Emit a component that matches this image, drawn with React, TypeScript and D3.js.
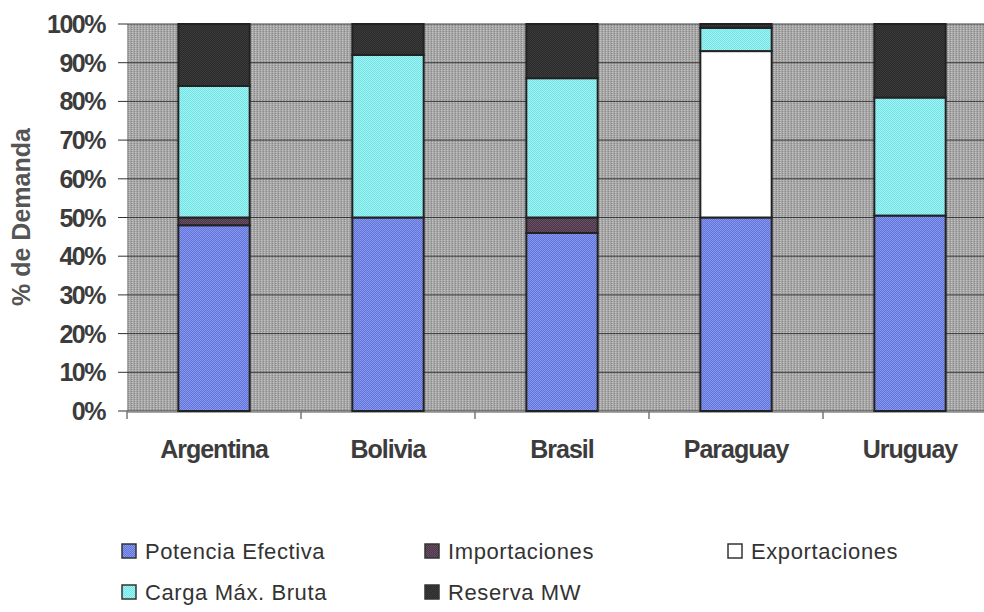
import React from "react";
import * as d3 from "d3";

const categories = ["Argentina", "Bolivia", "Brasil", "Paraguay", "Uruguay"];
const potencia = [48, 50, 46, 50, 50.5];
const importaciones = [2, 0, 4, 0, 0];
const exportaciones = [0, 0, 0, 43, 0];
const carga = [34, 42, 36, 6, 30.5];
const reserva = [16, 8, 14, 1, 19];
const yTicks = [0, 10, 20, 30, 40, 50, 60, 70, 80, 90, 100];

const seriesKeys = ["potencia", "importaciones", "exportaciones", "carga", "reserva"];
const seriesNames: Record<string, string> = {
  potencia: "Potencia Efectiva",
  importaciones: "Importaciones",
  exportaciones: "Exportaciones",
  carga: "Carga Máx. Bruta",
  reserva: "Reserva MW",
};
const seriesColors: Record<string, [string, string]> = {
  potencia: ["#6074da", "#8898ee"],
  importaciones: ["#4a3646", "#6a5066"],
  exportaciones: ["#ffffff", "#ffffff"],
  carga: ["#a2f4f4", "#72e2e2"],
  reserva: ["#2a2a2a", "#3c3c3c"],
};

const W = 984;
const H = 612;
const plotLeft = 127;
const plotTop = 24;
const plotBottom = 411;
const bandW = 174;

export default function App() {
  const rows = categories.map((c, i) => ({
    cat: c,
    potencia: potencia[i],
    importaciones: importaciones[i],
    exportaciones: exportaciones[i],
    carga: carga[i],
    reserva: reserva[i],
  }));
  const stack = d3.stack<any>().keys(seriesKeys);
  const stacked = stack(rows);

  const x = d3
    .scaleBand<string>()
    .domain(categories)
    .range([plotLeft, plotLeft + bandW * categories.length])
    .paddingInner(0)
    .paddingOuter(0);
  const y = d3.scaleLinear().domain([0, 100]).range([plotBottom, plotTop]);
  const barW = x.bandwidth() * 0.41;

  const legendItems = [
    { key: "potencia", x: 122, y: 551 },
    { key: "importaciones", x: 425, y: 551 },
    { key: "exportaciones", x: 728, y: 551 },
    { key: "carga", x: 122, y: 592 },
    { key: "reserva", x: 425, y: 592 },
  ];

  return (
    <svg
      width={W}
      height={H}
      style={{ position: "absolute", left: 0, top: 0, background: "#fff" }}
      fontFamily="'Liberation Sans', Arial, sans-serif"
    >
      <defs>
        <pattern id="bgpat" width="3" height="2" patternUnits="userSpaceOnUse">
          <rect width="3" height="2" fill="#a6a6a6" />
          <rect x="0" y="0" width="1" height="1" fill="#c4c4c4" />
          <rect x="2" y="1" width="1" height="1" fill="#8a8a8a" />
        </pattern>
        {seriesKeys.map((k) => (
          <pattern key={k} id={`pat-${k}`} width="2" height="2" patternUnits="userSpaceOnUse">
            <rect width="2" height="2" fill={seriesColors[k][0]} />
            <rect x="0" y="0" width="1" height="1" fill={seriesColors[k][1]} />
            <rect x="1" y="1" width="1" height="1" fill={seriesColors[k][1]} />
          </pattern>
        ))}
      </defs>

      {/* plot background */}
      <rect x={plotLeft} y={plotTop} width={W - plotLeft} height={plotBottom - plotTop} fill="url(#bgpat)" />

      {/* gridlines */}
      {yTicks.map((t) => (
        <line key={t} x1={plotLeft} x2={W} y1={y(t)} y2={y(t)} stroke="#3a3a3a" strokeWidth={1} />
      ))}

      {/* y ticks & labels */}
      {yTicks.map((t) => (
        <g key={"yt" + t}>
          <line x1={118} x2={plotLeft} y1={y(t)} y2={y(t)} stroke="#333" strokeWidth={1} />
          <text
            x={105}
            y={y(t) + 9}
            textAnchor="end"
            fontSize={25}
            fontWeight="bold"
            fill="#3c3c3c"
            letterSpacing={-1.5}
          >
            {t}%
          </text>
        </g>
      ))}

      {/* x axis */}
      <line x1={plotLeft} x2={W} y1={plotBottom + 1} y2={plotBottom + 1} stroke="#8a8a8a" strokeWidth={1.5} />
      {categories.map((c) => (
        <line
          key={"xt" + c}
          x1={x(c)!}
          x2={x(c)!}
          y1={plotBottom}
          y2={plotBottom + 8}
          stroke="#777"
          strokeWidth={1.5}
        />
      ))}

      {/* bars */}
      {stacked.map((s) =>
        s.map((d, i) => {
          const h = y(d[0]) - y(d[1]);
          if (h <= 0) return null;
          const cat = categories[i];
          const cx = x(cat)! + x.bandwidth() / 2;
          return (
            <rect
              key={s.key + cat}
              x={cx - barW / 2}
              y={y(d[1])}
              width={barW}
              height={h}
              fill={`url(#pat-${s.key})`}
              stroke="#222"
              strokeWidth={2}
            />
          );
        })
      )}

      {/* category labels */}
      {categories.map((c) => (
        <text
          key={"xl" + c}
          x={x(c)! + x.bandwidth() / 2}
          y={458}
          textAnchor="middle"
          fontSize={25}
          fontWeight="bold"
          fill="#3c3c3c"
          letterSpacing={-1}
        >
          {c}
        </text>
      ))}

      {/* y axis title */}
      <text
        transform="translate(30,217) rotate(-90)"
        textAnchor="middle"
        fontSize={25}
        fontWeight="bold"
        fill="#555"
      >
        % de Demanda
      </text>

      {/* legend */}
      {legendItems.map((it) => (
        <g key={"lg" + it.key}>
          <rect
            x={it.x}
            y={it.y - 7}
            width={14}
            height={14}
            fill={`url(#pat-${it.key})`}
            stroke="#333"
            strokeWidth={1.5}
          />
          <text x={it.x + 23} y={it.y + 8} fontSize={22} fill="#333" letterSpacing={0.6}>
            {seriesNames[it.key]}
          </text>
        </g>
      ))}
    </svg>
  );
}
